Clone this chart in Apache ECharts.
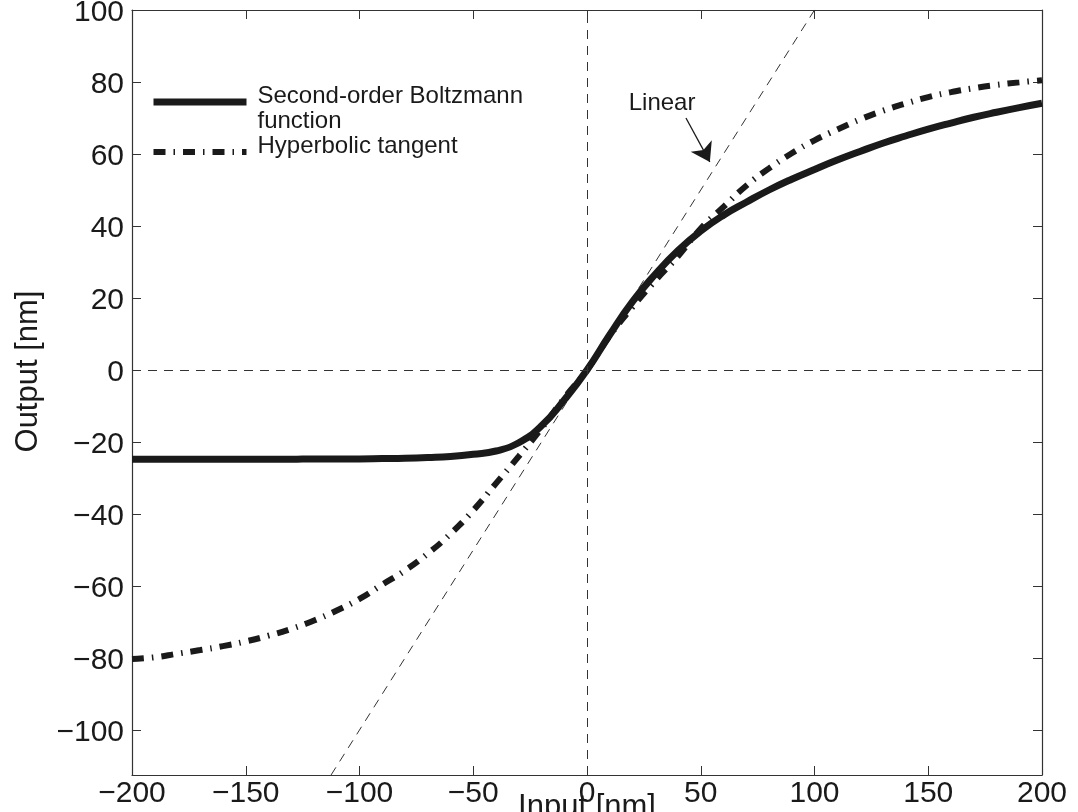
<!DOCTYPE html>
<html>
<head>
<meta charset="utf-8">
<script src="https://cdn.jsdelivr.net/npm/echarts@6/dist/echarts.min.js"></script>
<style>
  html, body { margin: 0; padding: 0; background: #ffffff; }
  #chart { width: 1078px; height: 812px; }
</style>
</head>
<body>
<div id="chart"></div>
<script>
// Input positions (nm) where both transfer curves are sampled
const inputX = [
  -200, -190, -180, -170, -160, -150, -140, -130, -120, -110,
  -100, -90, -80, -70, -60, -50, -40, -30, -20, -10,
  0, 10, 20, 30, 40, 50, 60, 70, 80, 90,
  100, 110, 120, 130, 140, 150, 160, 170, 180, 190, 200
];

// Second-order Boltzmann function output (nm)
const boltzmannY = [
  -24.8, -24.8, -24.8, -24.8, -24.8, -24.8, -24.8, -24.8, -24.7, -24.7,
  -24.7, -24.6, -24.5, -24.3, -24.0, -23.4, -22.5, -20.2, -15.5, -8.3,
  0, 9.8, 19.0, 26.6, 33.2, 38.6, 43.0, 46.6, 50.0, 53.0,
  55.7, 58.3, 60.7, 63.0, 65.0, 66.9, 68.6, 70.2, 71.6, 72.9, 74.1
];

// Hyperbolic tangent output (nm)
const tanhY = [
  -80.3, -79.8, -78.8, -77.8, -76.7, -75.4, -73.8, -71.9, -69.6, -66.8,
  -63.6, -59.6, -55.7, -51.0, -45.5, -39.0, -31.5, -24.0, -16.2, -7.8,
  0, 9.5, 17.5, 24.8, 31.6, 39.3, 45.3, 51.2, 56.0, 60.2,
  63.8, 66.8, 69.6, 72.0, 74.0, 75.8, 77.2, 78.3, 79.2, 79.9, 80.5
];

// Linear reference y = x (end points, clipped by the plot frame)
const linearX = [-120, 120];
const linearY = [-120, 120];

// "Linear" annotation: label anchor and arrow (data coordinates)
const linearLabelAt = [33, 74.2];
const linearArrowFrom = [43.5, 70];
const linearArrowTo = [54, 57.8];

// Axis ranges and tick values
const xRange = [-200, 200];
const xStep = 50;
const yRange = [-112.5, 100];
const yTicks = [-100, -80, -60, -40, -20, 0, 20, 40, 60, 80, 100];

const NAME_BOLTZ = 'Second-order Boltzmann function';
const NAME_TANH = 'Hyperbolic tangent';

// Legend entries as rich text; the spacer rows set where the sample line sits next to the text
const legendText = {
  [NAME_BOLTZ]: '{s| }\n{t|Second-order Boltzmann}\n{t|function}',
  [NAME_TANH]: '{t|Hyperbolic tangent}\n{s2| }'
};

const ink = '#1a1a1a';
const frame = '#333333';
const font = "'Liberation Sans', Arial, Helvetica, sans-serif";
const minus = v => String(v).replace('-', '\u2212');
const dashDot = [12, 8, 1.5, 8];

const boltzData = inputX.map((x, i) => [x, boltzmannY[i]]);
const tanhData = inputX.map((x, i) => [x, tanhY[i]]);
const linearData = linearX.map((x, i) => [x, linearY[i]]);

const tickStyle = { show: true, inside: true, length: 9, lineStyle: { color: frame, width: 1 } };
const lineAxis = { show: true, onZero: false, lineStyle: { color: frame, width: 1.2 } };
const thinDash = { color: '#333333', width: 1, type: [9, 7] };

const chart = echarts.init(document.getElementById('chart'), null, { renderer: 'canvas' });

chart.setOption({
  animation: false,
  backgroundColor: '#ffffff',
  textStyle: { fontFamily: font, color: ink },
  grid: { left: 132, right: 36, top: 10, bottom: 37, containLabel: false, outerBoundsMode: 'none' },
  legend: {
    orient: 'vertical',
    left: 150,
    top: 72,
    padding: 0,
    itemGap: 1,
    itemWidth: 93,
    itemHeight: 22,
    selectedMode: false,
    itemStyle: { opacity: 0 },
    data: [
      { name: NAME_BOLTZ, itemStyle: { opacity: 0 }, lineStyle: { width: 7, color: ink } },
      { name: NAME_TANH, itemStyle: { opacity: 0 }, lineStyle: { width: 6, color: ink, type: dashDot } }
    ],
    formatter: n => legendText[n],
    textStyle: {
      fontFamily: font, fontSize: 24, color: ink, padding: [0, 0, 0, 6],
      rich: {
        t: { fontFamily: font, fontSize: 24, lineHeight: 25, color: ink },
        s: { fontSize: 10, lineHeight: 13 },
        s2: { fontSize: 10, lineHeight: 12 }
      }
    }
  },
  xAxis: [
    {
      type: 'value', position: 'bottom',
      min: xRange[0], max: xRange[1], interval: xStep,
      axisLine: lineAxis, axisTick: tickStyle, splitLine: { show: false },
      axisLabel: { fontSize: 30, color: ink, margin: 4, formatter: minus, fontFamily: font },
      name: 'Input [nm]', nameLocation: 'middle', nameGap: 17, nameMoveOverlap: false,
      nameTextStyle: { fontSize: 31, color: ink, fontFamily: font }
    },
    {
      type: 'value', position: 'top',
      min: xRange[0], max: xRange[1], interval: xStep,
      axisLine: lineAxis, axisTick: tickStyle, splitLine: { show: false },
      axisLabel: { show: false }
    }
  ],
  yAxis: [
    {
      type: 'value', position: 'left',
      min: yRange[0], max: yRange[1],
      axisLine: lineAxis,
      axisTick: Object.assign({}, tickStyle, { customValues: yTicks }),
      splitLine: { show: false },
      axisLabel: {
        customValues: yTicks, margin: 8,
        formatter: v => '{v|' + minus(v) + '}',
        rich: { v: { fontSize: 30, color: ink, fontFamily: font, padding: [5, 0, 0, 0] } }
      },
      name: 'Output [nm]', nameLocation: 'middle', nameGap: 88,
      nameTextStyle: { fontSize: 31, color: ink, fontFamily: font, padding: [0, 0, 0, 42] }
    },
    {
      type: 'value', position: 'right',
      min: yRange[0], max: yRange[1],
      axisLine: lineAxis,
      axisTick: Object.assign({}, tickStyle, { customValues: yTicks }),
      splitLine: { show: false },
      axisLabel: { show: false }
    }
  ],
  series: [
    {
      name: 'Linear',
      type: 'line',
      xAxisIndex: 0, yAxisIndex: 0,
      data: linearData,
      symbol: 'none',
      clip: true,
      silent: true,
      lineStyle: thinDash,
      z: 1,
      markLine: {
        silent: true,
        symbol: ['none', 'none'],
        label: { show: false },
        lineStyle: thinDash,
        data: [{ xAxis: 0 }, { yAxis: 0 }]
      }
    },
    {
      name: 'LinearNote',
      type: 'line',
      xAxisIndex: 0, yAxisIndex: 0,
      data: [],
      symbol: 'none',
      markPoint: {
        silent: true,
        symbol: 'circle',
        symbolSize: 0,
        data: [{ coord: linearLabelAt, value: 'Linear' }],
        label: {
          show: true, position: 'inside', formatter: 'Linear',
          fontSize: 24, color: ink, fontFamily: font
        }
      },
      markLine: {
        silent: true,
        symbol: ['none', 'arrow'],
        symbolSize: 18,
        label: { show: false },
        itemStyle: { color: ink },
        lineStyle: { color: ink, width: 1.3, type: 'solid' },
        data: [[{ coord: linearArrowFrom }, { coord: linearArrowTo }]]
      }
    },
    {
      name: NAME_BOLTZ,
      type: 'line',
      xAxisIndex: 0, yAxisIndex: 0,
      data: boltzData,
      symbol: 'none',
      smooth: 0.5,
      itemStyle: { color: ink },
      lineStyle: { color: ink, width: 7, cap: 'butt' },
      z: 3
    },
    {
      name: NAME_TANH,
      type: 'line',
      xAxisIndex: 0, yAxisIndex: 0,
      data: tanhData,
      symbol: 'none',
      smooth: 0.5,
      itemStyle: { color: ink },
      lineStyle: { color: ink, width: 6, type: dashDot, cap: 'butt' },
      z: 4
    }
  ]
});
</script>
</body>
</html>
